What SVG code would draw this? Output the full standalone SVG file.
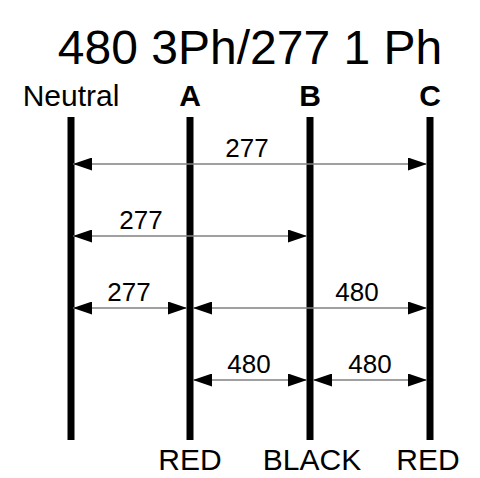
<svg xmlns="http://www.w3.org/2000/svg" width="480" height="478" viewBox="0 0 480 478">
<defs>
<marker id="ah" viewBox="0 0 19 13" refX="19" refY="6.5" markerWidth="19" markerHeight="13" markerUnits="userSpaceOnUse" orient="auto-start-reverse">
<path d="M0,0 L19,6.5 L0,13 Z" fill="#000"/>
</marker>
</defs>
<style>
text{font-family:"Liberation Sans",Arial,sans-serif;fill:#000;text-anchor:middle}
.t{font-size:48px}
.h{font-size:30px}
.b{font-weight:bold}
.l{font-size:26px}
.w{stroke:#000;stroke-width:7}
.a{stroke:#808080;stroke-width:1.5;fill:none;marker-start:url(#ah);marker-end:url(#ah)}
</style>
<rect width="480" height="478" fill="#fff"/>
<text class="t" x="250" y="64">480 3Ph/277 1 Ph</text>
<g id="neutral"><line class="w" x1="71" y1="117" x2="71" y2="440"/><text class="h" x="71" y="106">Neutral</text></g>
<g id="A"><line class="w" x1="190" y1="117" x2="190" y2="440"/><text class="h b" x="190" y="106">A</text><text class="h" x="190" y="470">RED</text></g>
<g id="B"><line class="w" x1="310" y1="117" x2="310" y2="440"/><text class="h b" x="310" y="106">B</text><text class="h" x="312" y="470">BLACK</text></g>
<g id="C"><line class="w" x1="430" y1="117" x2="430" y2="440"/><text class="h b" x="430" y="106">C</text><text class="h" x="428" y="470">RED</text></g>
<g id="connectors">
<line class="a" x1="73" y1="164" x2="427" y2="164"/>
<line class="a" x1="73" y1="236" x2="307" y2="236"/>
<line class="a" x1="73" y1="308" x2="187" y2="308"/>
<line class="a" x1="193" y1="308" x2="427" y2="308"/>
<line class="a" x1="193" y1="380" x2="307" y2="380"/>
<line class="a" x1="313" y1="380" x2="427" y2="380"/>
<text class="l" x="247" y="157">277</text>
<text class="l" x="141" y="229">277</text>
<text class="l" x="129" y="301">277</text>
<text class="l" x="357" y="301">480</text>
<text class="l" x="249" y="373">480</text>
<text class="l" x="370" y="373">480</text>
</g>
</svg>
